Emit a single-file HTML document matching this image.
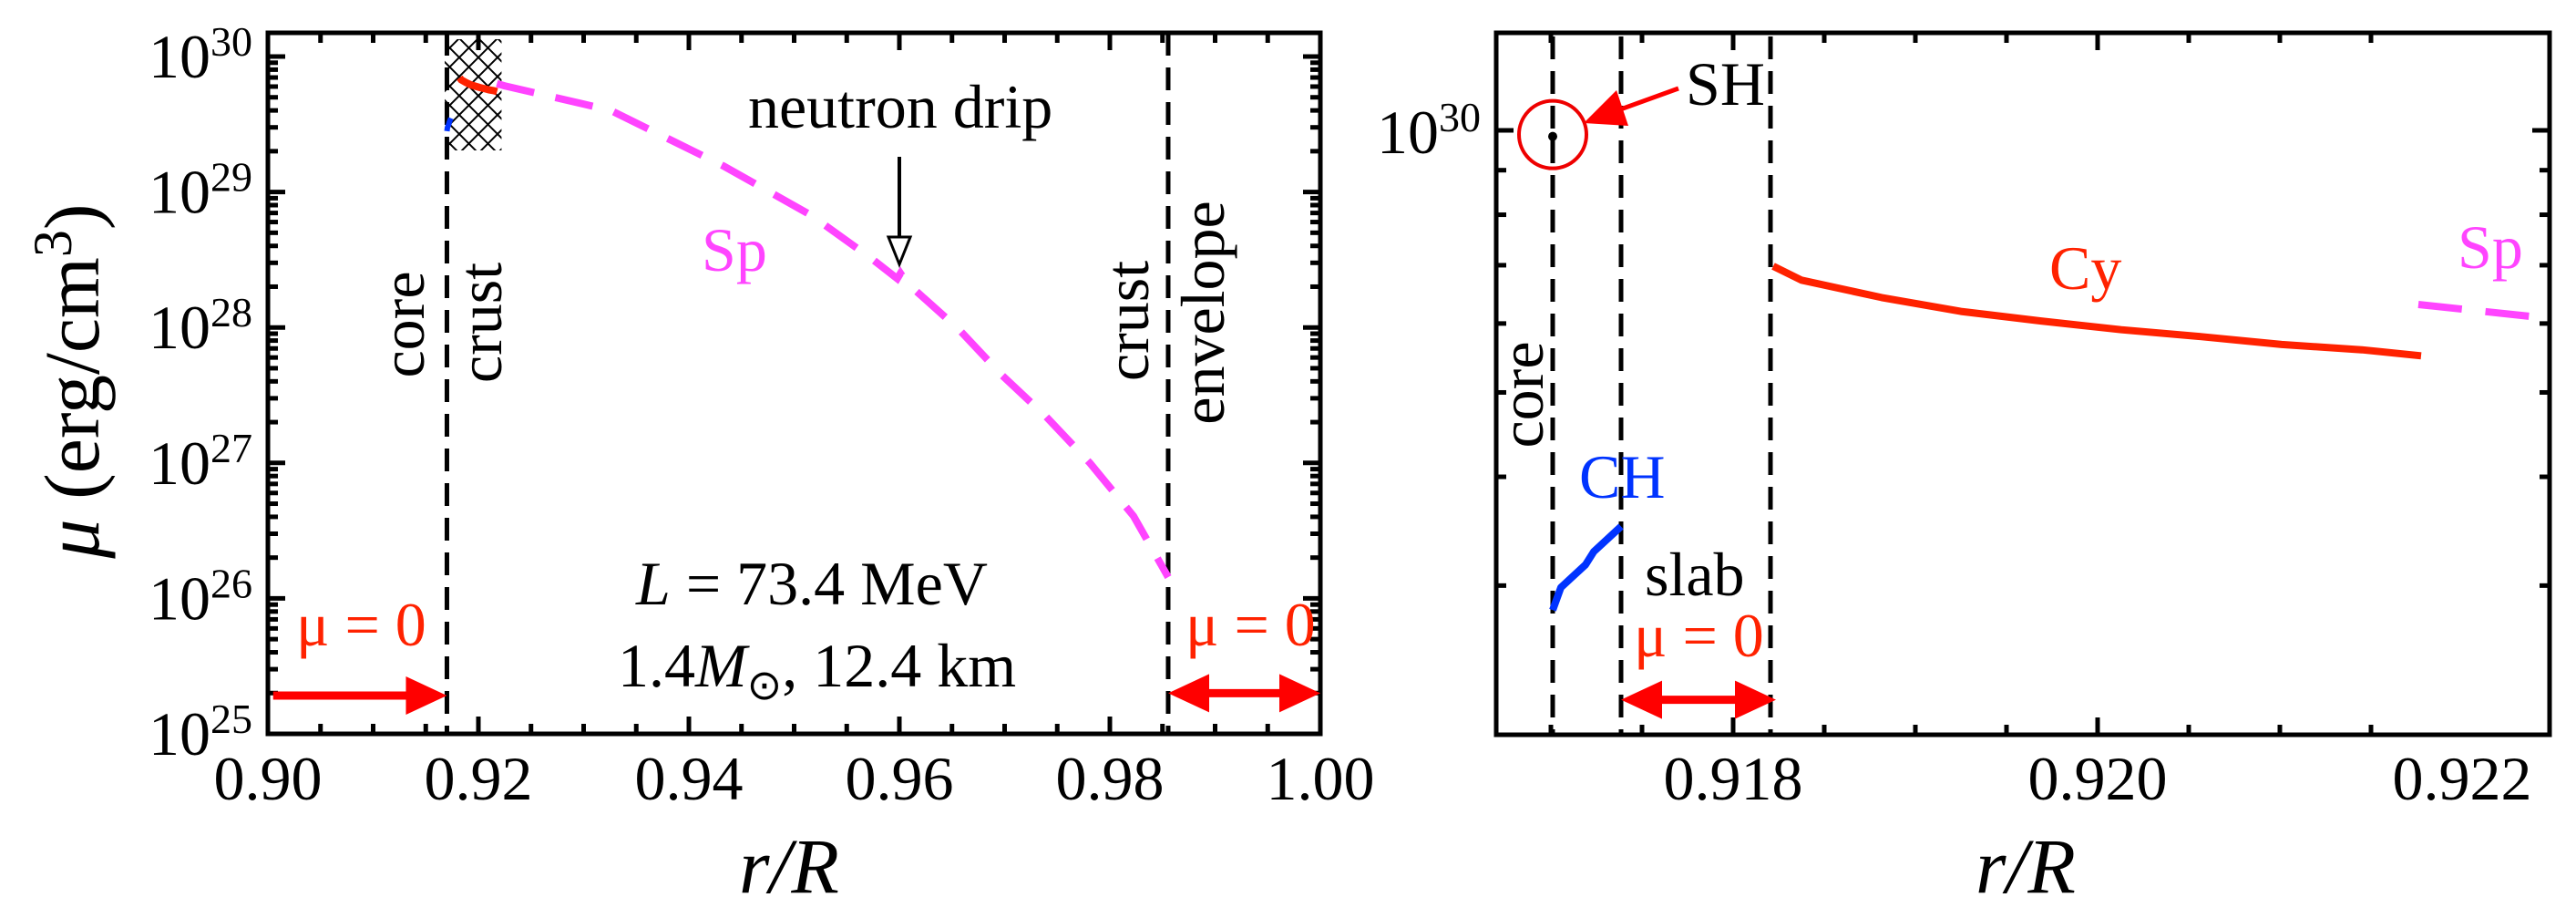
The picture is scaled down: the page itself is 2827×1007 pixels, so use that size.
<!DOCTYPE html>
<html><head><meta charset="utf-8">
<style>
html,body{margin:0;padding:0;background:#fff;overflow:hidden;width:2827px;height:1007px;}
svg{display:block;font-family:"Liberation Serif",serif;}
</style></head>
<body>
<svg id="chart" width="2827" height="1007" viewBox="0 0 2827 1007" xmlns="http://www.w3.org/2000/svg">
<defs>
<pattern id="hatch" patternUnits="userSpaceOnUse" width="21" height="21">
<path d="M0,0 L21,21 M21,0 L0,21" stroke="#000" stroke-width="2" fill="none"/>
</pattern>
<clipPath id="clipL"><rect x="294" y="36" width="1155" height="769"/></clipPath>
<clipPath id="clipR"><rect x="1642" y="36" width="1156" height="770"/></clipPath>
</defs>
<g id="left"></g>
<g id="right"></g>
</svg>
<script>
// ---- data (r/R, log10 mu) ----
const spR   = [0.92176,0.92248,0.93255,0.94329,0.9516,0.9574,0.9598,0.9601,0.96069,0.96563,0.96978,0.97394,0.9781,0.98225,0.98554];
const spLog = [29.80,29.784,29.603,29.192,28.829,28.506,28.36,28.40,28.331,27.988,27.645,27.342,26.999,26.608,26.157];
const cyR   = [0.91822,0.918375,0.918815,0.91925,0.91969,0.92013,0.92057,0.92101,0.92145,0.921775];
const cyLog = [29.844,29.828,29.808,29.792,29.781,29.771,29.763,29.754,29.748,29.741];
const chR   = [0.91701,0.917055,0.91719,0.917235,0.917385];
const chLog = [29.449,29.475,29.501,29.516,29.545];
const shR   = [0.91701];
const shLog = [29.993];
const boundaries = [0.91701,0.917385,0.918205,0.98554];
const xTicksL = ["0.90","0.92","0.94","0.96","0.98","1.00"];
const yTicksL = [25,26,27,28,29,30];
const xTicksR = ["0.918","0.920","0.922"];

const NS="http://www.w3.org/2000/svg";
function el(parent,tag,attrs,text){const e=document.createElementNS(NS,tag);for(const k in attrs)e.setAttribute(k,attrs[k]);if(text!==undefined)e.textContent=text;parent.appendChild(e);return e;}

const P = {
 L:{x0:294,x1:1449,y0:36,y1:805,rmin:0.90,rmax:1.00,log30:62,dec:148.6},
 R:{x0:1642,x1:2798,y0:36,y1:806,r0:0.918,px0:1902,pxPer:200000,log30:143,dec:955}
};
const XL=r=>P.L.x0+(r-P.L.rmin)/(P.L.rmax-P.L.rmin)*(P.L.x1-P.L.x0);
const YL=l=>P.L.log30-(l-30)*P.L.dec;
const XR=r=>P.R.px0+(r-P.R.r0)*P.R.pxPer;
const YR=l=>P.R.log30-(l-30)*P.R.dec;
function pathFrom(rs,ls,X,Y){return rs.map((r,i)=>(i?"L":"M")+X(r).toFixed(1)+","+Y(ls[i]).toFixed(1)).join(" ");}

const gL=document.getElementById('left'), gR=document.getElementById('right');

// ---------- LEFT PANEL ----------
let h=el(gL,'rect',{x:XL(0.9168),y:YL(30.128),width:XL(0.9222)-XL(0.9168),height:YL(29.307)-YL(30.128),fill:"url(#hatch)"});


const cl=el(gL,'g',{'clip-path':'url(#clipL)'});
[boundaries[0],boundaries[3]].forEach(b=>{
 const ln=el(cl,'line',{x1:XL(b),x2:XL(b),y1:36,y2:805,stroke:'#000','stroke-width':5,'stroke-dasharray':'25 13'});
 
 
});
let s=el(cl,'path',{d:pathFrom(spR,spLog,XL,YL),fill:'none',stroke:'#ff44ff','stroke-width':8,'stroke-dasharray':'42 24'});


s=el(cl,'path',{d:pathFrom(cyR,cyLog,XL,YL),fill:'none',stroke:'#ff2200','stroke-width':8});


s=el(cl,'path',{d:pathFrom(chR,chLog,XL,YL),fill:'none',stroke:'#0033ff','stroke-width':6});



function frame(g,x0,y0,x1,y1){el(g,'rect',{x:x0,y:y0,width:x1-x0,height:y1-y0,fill:'none',stroke:'#000','stroke-width':5});}
frame(gL,294,36,1449,805);
for(let i=0;i<=20;i++){const r=0.90+i*0.005;const x=XL(r);const len=(i%4==0)?19:11;
 el(gL,'line',{x1:x,x2:x,y1:805,y2:805-len,stroke:'#000','stroke-width':5});
 el(gL,'line',{x1:x,x2:x,y1:36,y2:36+len,stroke:'#000','stroke-width':5});}
for(let d=25;d<=30;d++){for(let m=1;m<=9;m++){const l=d+Math.log10(m);if(l>30.18)break;const y=YL(l);if(y<36||y>805)continue;const len=m==1?19:11;
 el(gL,'line',{x1:294,x2:294+len,y1:y,y2:y,stroke:'#000','stroke-width':5});
 el(gL,'line',{x1:1449,x2:1449-len,y1:y,y2:y,stroke:'#000','stroke-width':5});}}
xTicksL.forEach(t=>{const e=el(gL,'text',{x:XL(parseFloat(t)),y:877,'font-size':68,'text-anchor':'middle'},t);
 
 });
yTicksL.forEach(d=>{const y=YL(d);const t=el(gL,'text',{x:277,y:y+23,'font-size':68,'text-anchor':'end'});
 
 
 el(t,'tspan',{},'10');el(t,'tspan',{dy:-24,'font-size':46},String(d));});

function arrowR(g,xa,xb,y,both){
 el(g,'line',{x1:both?xa+40:xa,x2:xb-40,y1:y,y2:y,stroke:'#ff0000','stroke-width':9});
 el(g,'polygon',{points:`${xb},${y} ${xb-45},${y-21} ${xb-45},${y+21}`,fill:'#ff0000'});
 if(both)el(g,'polygon',{points:`${xa},${y} ${xa+45},${y-21} ${xa+45},${y+21}`,fill:'#ff0000'});
}
const aL=el(gL,'g',{});
arrowR(aL,XL(0.9005),XL(boundaries[0]),YL(25.283),false);
const aE=el(gL,'g',{});
arrowR(aE,XL(boundaries[3]),1449,YL(25.30),true);

function txt(g,name,attrs,content,html){const e=el(g,'text',attrs);if(html)e.innerHTML=content;else e.textContent=content;return e;}
txt(gL,'mu-zero-label-left',{x:325,y:708,'font-size':68,fill:'#ff2200'},'μ = 0');
txt(gL,'mu-zero-label-right',{x:1301,y:708,'font-size':68,fill:'#ff2200'},'μ = 0');
function rot(g,name,cx,cy,str,fs){return txt(g,name,{x:0,y:0,'font-size':fs,'text-anchor':'middle','dominant-baseline':'central',transform:`translate(${cx},${cy}) rotate(-90)`},str);}
rot(gL,'core-label',442,356,'core',68);
rot(gL,'crust-label',527,354,'crust',68);
rot(gL,'crust-label-2',1237,352,'crust',68);
rot(gL,'envelope-label',1320,343,'envelope',68);
txt(gL,'neutron-drip-label',{x:821,y:140,'font-size':68},'neutron drip');
const nd=el(gL,'g',{});
el(nd,'line',{x1:987,x2:987,y1:172,y2:262,stroke:'#000','stroke-width':4});
el(nd,'polygon',{points:'975,260 999,260 987,290',fill:'#fff',stroke:'#000','stroke-width':3});
txt(gL,'sp-label-left',{x:770,y:297,'font-size':68,fill:'#ff44ff'},'Sp');
txt(gL,'param-L-label',{x:698,y:663,'font-size':68},'<tspan font-style="italic">L</tspan> = 73.4 MeV',true);
txt(gL,'param-mass-label',{x:678,y:753,'font-size':68},'1.4<tspan font-style="italic">M</tspan><tspan dy="14" font-size="46">⊙</tspan><tspan dy="-14">, 12.4 km</tspan>',true);
txt(gL,'y-axis-title',{x:0,y:0,'font-size':86,'text-anchor':'middle',transform:'translate(108,418) rotate(-90)'},'<tspan font-style="italic">μ</tspan> (erg/cm<tspan dy="-30" font-size="60">3</tspan><tspan dy="30">)</tspan>',true);
txt(gL,'x-axis-title-left',{x:866,y:979,'font-size':86,'text-anchor':'middle','font-style':'italic'},'r/R');

// ---------- RIGHT PANEL ----------
const cr=el(gR,'g',{'clip-path':'url(#clipR)'});
boundaries.slice(0,3).forEach(b=>{
 const ln=el(cr,'line',{x1:XR(b),x2:XR(b),y1:40,y2:806,stroke:'#000','stroke-width':5,'stroke-dasharray':'25 13'});
 
 
});
s=el(cr,'path',{d:pathFrom(spR,spLog,XR,YR),fill:'none',stroke:'#ff44ff','stroke-width':8,'stroke-dasharray':'48 26'});


s=el(cr,'path',{d:pathFrom(cyR,cyLog,XR,YR),fill:'none',stroke:'#ff2200','stroke-width':8,'stroke-linejoin':'round'});


s=el(cr,'path',{d:pathFrom(chR,chLog,XR,YR),fill:'none',stroke:'#0033ff','stroke-width':8,'stroke-linejoin':'round'});


shR.forEach((r,i)=>{const c=el(cr,'circle',{cx:XR(r),cy:YR(shLog[i]),r:5,fill:'#000'});
 
 
 const o=el(cr,'circle',{cx:XR(r),cy:YR(shLog[i])-2,r:37,fill:'none',stroke:'#ee0000','stroke-width':4});
 
 });
frame(gR,1642,36,2798,806);
for(let i=-2;i<=9;i++){const r=0.917+i*0.0005;const x=XR(r);if(x<1642||x>2798)continue;const len=(Math.round(r*10000)%20==0)?19:11;
 el(gR,'line',{x1:x,x2:x,y1:806,y2:806-len,stroke:'#000','stroke-width':5});
 el(gR,'line',{x1:x,x2:x,y1:36,y2:36+len,stroke:'#000','stroke-width':5});}
[2,3,4,5,6,7,8,9,10].forEach(m=>{const l=29+Math.log10(m);const y=YR(l);if(y<36||y>806)return;const len=m==10?19:11;
 el(gR,'line',{x1:1642,x2:1642+len,y1:y,y2:y,stroke:'#000','stroke-width':5});
 el(gR,'line',{x1:2798,x2:2798-len,y1:y,y2:y,stroke:'#000','stroke-width':5});});
xTicksR.forEach(t=>{const e=el(gR,'text',{x:XR(parseFloat(t)),y:877,'font-size':68,'text-anchor':'middle'},t);
 
 });
const yt=el(gR,'text',{x:1625,y:YR(30)+25,'font-size':68,'text-anchor':'end'});


el(yt,'tspan',{},'10');el(yt,'tspan',{dy:-24,'font-size':46},'30');

const aS=el(gR,'g',{});
arrowR(aS,XR(boundaries[1]),XR(boundaries[2])+6,YR(29.346),true);
txt(gR,'mu-zero-label-slab',{x:1793,y:720,'font-size':68,fill:'#ff2200'},'μ = 0');
txt(gR,'slab-label',{x:1805,y:653,'font-size':68},'slab');
txt(gR,'ch-label',{x:1733,y:546,'font-size':68,fill:'#0033ff'},'CH');
txt(gR,'cy-label',{x:2249,y:317,'font-size':68,fill:'#ff2200'},'Cy');
txt(gR,'sp-label-right',{x:2697,y:294,'font-size':68,fill:'#ff44ff'},'Sp');
txt(gR,'sh-label',{x:1850,y:115,'font-size':68},'SH');
rot(gR,'core-label',1670,433,'core',68);
const sa=el(gR,'g',{});
el(sa,'line',{x1:1842,y1:97,x2:1770,y2:123,stroke:'#ff0000','stroke-width':5});
el(sa,'polygon',{points:'1738,135 1774,99 1787,138',fill:'#ff0000'});
txt(gR,'x-axis-title-right',{x:2223,y:979,'font-size':86,'text-anchor':'middle','font-style':'italic'},'r/R');
</script>
</body></html>
